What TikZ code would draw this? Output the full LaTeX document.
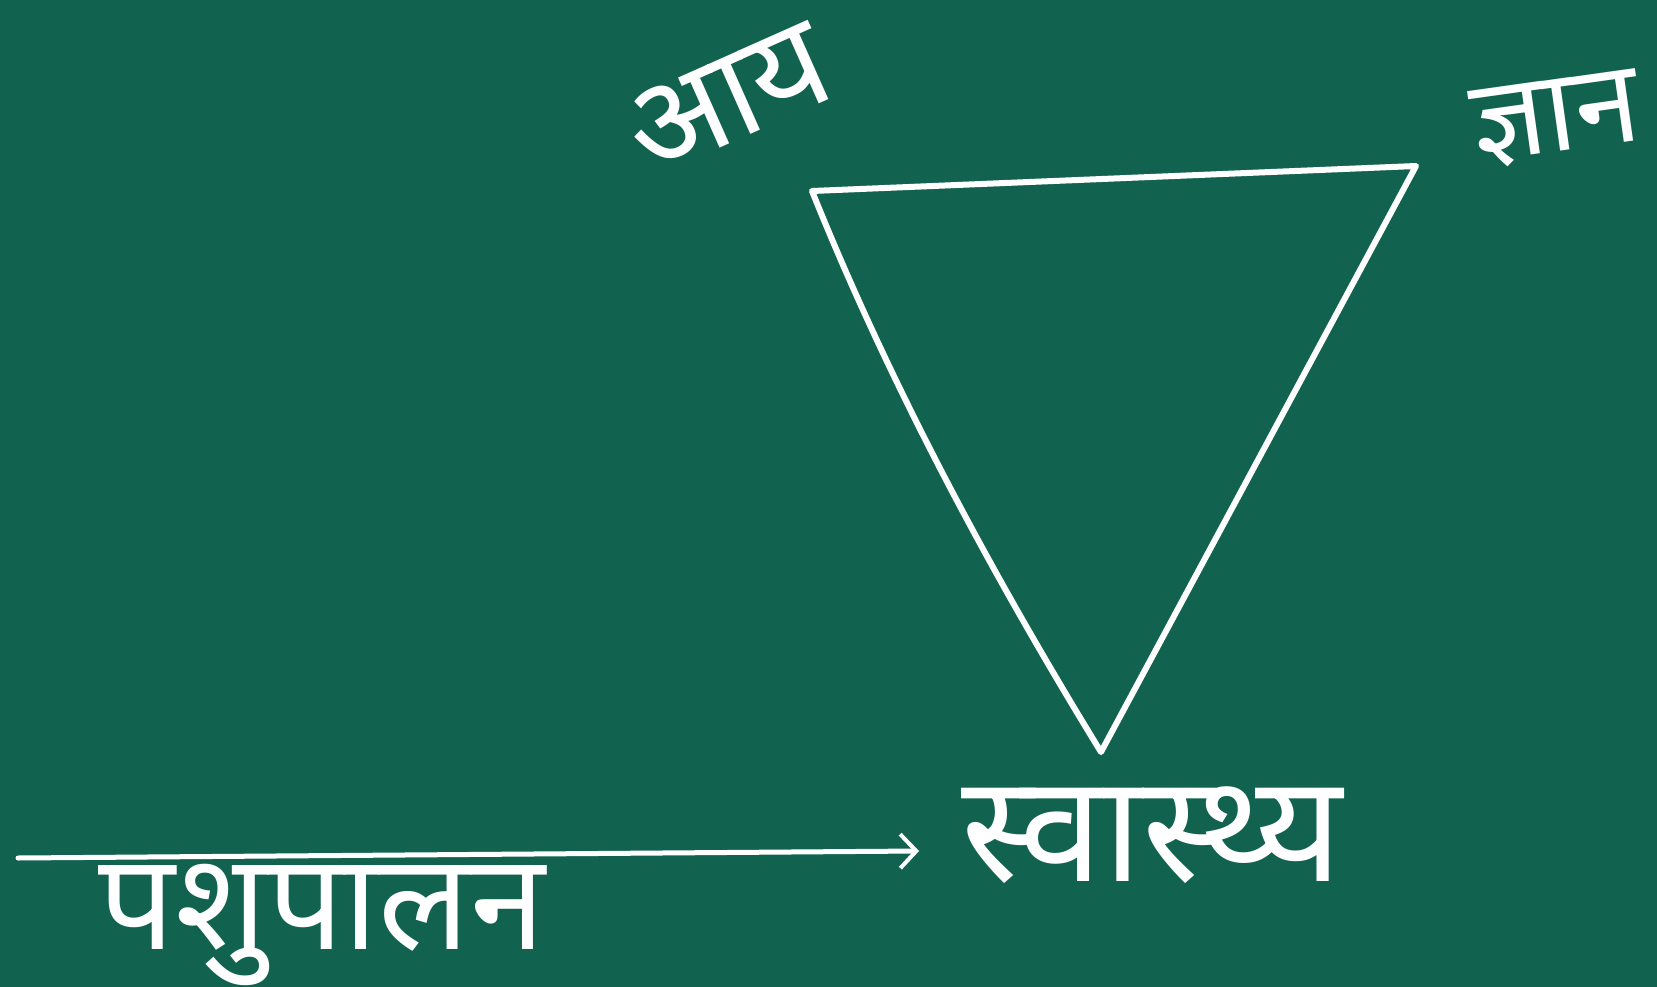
\documentclass[tikz,border=0pt]{standalone}
\usepackage{fontspec}
\usetikzlibrary{arrows.meta}
\newfontfamily\devfont[Script=Devanagari]{Noto Sans}
\definecolor{board}{RGB}{17,99,80}
\begin{document}
\begin{tikzpicture}[x=1pt,y=-1pt,
  chalk/.style={draw=white,line width=6pt,line cap=round,line join=round},
  lbl/.style={text=white,inner sep=0pt}]
\fill[board] (0,0) rectangle (1657,987);
\useasboundingbox (0,0) rectangle (1657,987);
\coordinate (A) at (812,191);
\coordinate (B) at (1416,166);
\coordinate (C) at (1101,752);
\coordinate (s) at (18,858);
\coordinate (e) at (919,851);
\draw[chalk] (A) -- (B) -- (C) .. controls (988,568) and (888,380) .. (A) -- cycle;
\draw[chalk,line width=5pt,-{Straight Barb[length=16pt,width=34pt,line width=4pt]}] (s) -- (e);
\node[lbl,rotate=24,font=\devfont\fontsize{130}{150}\selectfont] (aay) at (728,100) {आय};
\node[lbl,rotate=8,font=\devfont\fontsize{115}{130}\selectfont] (gyan) at (1556,120) {ज्ञान};
\node[lbl,font=\devfont\fontsize{150}{170}\selectfont] (health) at (1152,835) {स्वास्थ्य};
\node[lbl,anchor=north,font=\devfont\fontsize{135}{150}\selectfont] (pashu) at (322,864) {पशुपालन};
\end{tikzpicture}
\end{document}
